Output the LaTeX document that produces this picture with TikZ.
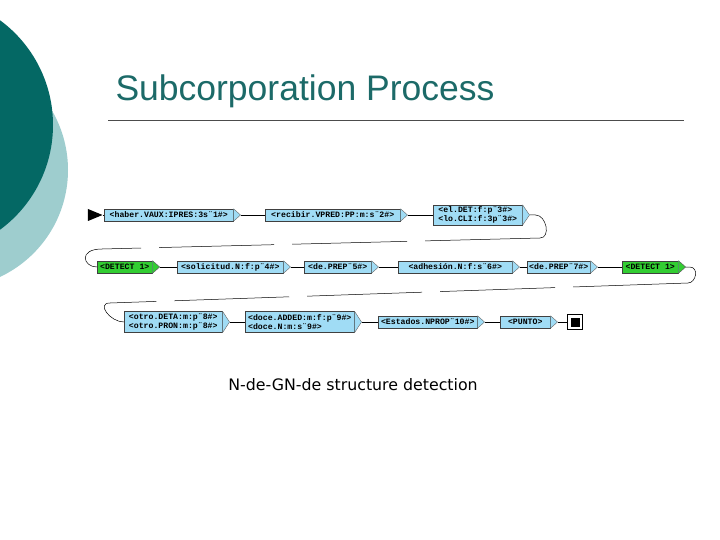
\documentclass[tikz,border=0pt]{standalone}
\usepackage{fontspec}
\usetikzlibrary{shapes.geometric,calc}
\newfontfamily\titlefont{Liberation Sans}
\newfontfamily\capfont{DejaVu Sans}
\newfontfamily\tokfont{Liberation Mono}
\definecolor{darkteal}{RGB}{4,104,100}
\definecolor{lightteal}{RGB}{158,205,206}
\definecolor{titleteal}{RGB}{28,106,104}
\definecolor{tokblue}{RGB}{160,220,245}
\definecolor{tokgreen}{RGB}{50,205,50}
\begin{document}
\begin{tikzpicture}[x=1pt,y=-1pt,
    tok/.style={rectangle,draw=black!75,line width=0.5pt,fill=tokblue,anchor=west,
        inner sep=1pt,minimum height=12pt,font=\tokfont\bfseries\fontsize{8.2}{8.4}\selectfont,align=left},
    det/.style={tok,fill=tokgreen},
    link/.style={line width=0.5pt}]
    \useasboundingbox (0,0) rectangle (720,540);
    \clip (0,0) rectangle (720,540);
    % background circles
    \fill[lightteal] (-50,170) circle[radius=118pt];
    \fill[darkteal] (-77,125) circle[radius=130pt];
    % title
    \node[anchor=west,text=titleteal,font=\titlefont\fontsize{35.5}{35.5}\selectfont] (title) at (112,91) {Subcorporation Process};
    \draw[black!70,line width=0.6pt] (108,120) -- (684,120);
    % row 1
    \node[isosceles triangle,fill=black,minimum height=12pt,minimum width=12pt,inner sep=0pt] (start) at (92,215) {};
    \node[tok,minimum width=129pt] (b1) at (104,215) {<haber.VAUX:IPRES:3s¨1\#>};
    \node[tok,minimum width=135pt] (b2) at (265,215) {<recibir.VPRED:PP:m:s¨2\#>};
    \node[tok,minimum width=89pt,minimum height=20pt] (b3) at (433,215) {<el.DET:f:p¨3\#>\\<lo.CLI:f:3p¨3\#>};
    % row 2
    \node[det,minimum width=55pt] (g1) at (97,267) {<DETECT 1>};
    \node[tok,minimum width=106pt] (s1) at (177,267) {<solicitud.N:f:p¨4\#>};
    \node[tok,minimum width=67pt] (d1) at (304,267) {<de.PREP¨5\#>};
    \node[tok,minimum width=114pt] (a1) at (398,267) {<adhesión.N:f:s¨6\#>};
    \node[tok,minimum width=63pt] (d2) at (527,267) {<de.PREP¨7\#>};
    \node[det,minimum width=56pt] (g2) at (622,267) {<DETECT 1>};
    % row 3
    \node[tok,minimum width=98pt,minimum height=21pt] (o1) at (124,322) {<otro.DETA:m:p¨8\#>\\<otro.PRON:m:p¨8\#>};
    \node[tok,minimum width=109pt,minimum height=21pt] (c1) at (245,322) {<doce.ADDED:m:f:p¨9\#>\\<doce.N:m:s¨9\#>};
    \node[tok,minimum width=99pt] (e1) at (378,322) {<Estados.NPROP¨10\#>};
    \node[tok,minimum width=50pt] (p1) at (500,322) {<PUNTO>};
    \node[draw,line width=0.8pt,fill=white,minimum size=15pt,inner sep=0pt] (fin) at (575,322) {};
    \fill (fin.center) ++(-4.5,-4.5) rectangle ++(9,9);
    % pointers
    \foreach \n in {b1,b2,b3,g1,s1,d1,a1,d2,g2,o1,c1,e1,p1}{
        \coordinate (\n-tip) at ($(\n.east)+(7,0)$);
        \filldraw[fill=tokblue,draw=black!60,line width=0.4pt] (\n.north east) -- (\n-tip) -- (\n.south east);
    }
    \fill[tokgreen] (g1.north east) -- (g1-tip) -- (g1.south east) -- cycle;
    \fill[tokgreen] (g2.north east) -- (g2-tip) -- (g2.south east) -- cycle;
    \draw[black!60,line width=0.4pt] (g1.north east) -- (g1-tip) -- (g1.south east);
    \draw[black!60,line width=0.4pt] (g2.north east) -- (g2-tip) -- (g2.south east);
    % connectors
    \draw[link] (start) -- (b1.west);
    \draw[link] (b1-tip) -- (b2.west);
    \draw[link] (b2-tip) -- (b3.west);
    \draw[link] (g1-tip) -- (s1.west);
    \draw[link] (s1-tip) -- (d1.west);
    \draw[link] (d1-tip) -- (a1.west);
    \draw[link] (a1-tip) -- (d2.west);
    \draw[link] (d2-tip) -- (g2.west);
    \draw[link] (o1-tip) -- (c1.west);
    \draw[link] (c1-tip) -- (e1.west);
    \draw[link] (e1-tip) -- (p1.west);
    \draw[link] (p1-tip) -- (fin.west);
    % wrap-around lines
    \coordinate (r1) at (540,238);
    \coordinate (l1) at (102,249);
    \coordinate (r2) at (688,283);
    \coordinate (l2) at (110,303);
    \draw[link] (b3-tip) -- ++(6,0) .. controls +(11,0) and +(11,0) .. (r1);
    \draw[link,dash pattern=on 115pt off 18pt] (r1) -- (l1);
    \draw[link] (l1) .. controls +(-24,0) and +(-14,0) .. (g1.west);
    \draw[link] (g2-tip) -- ++(4,0) .. controls +(10,0) and +(8,0) .. (r2);
    \draw[link,dash pattern=on 115pt off 18pt] (r2) -- (l2);
    \draw[link] (l2) .. controls +(-14,0) and +(-14,0) .. (o1.west);
    % caption
    \node[font=\capfont\fontsize{15.8}{15.8}\selectfont] (caption) at (353,385) {N-de-GN-de structure detection};
\end{tikzpicture}
\end{document}
